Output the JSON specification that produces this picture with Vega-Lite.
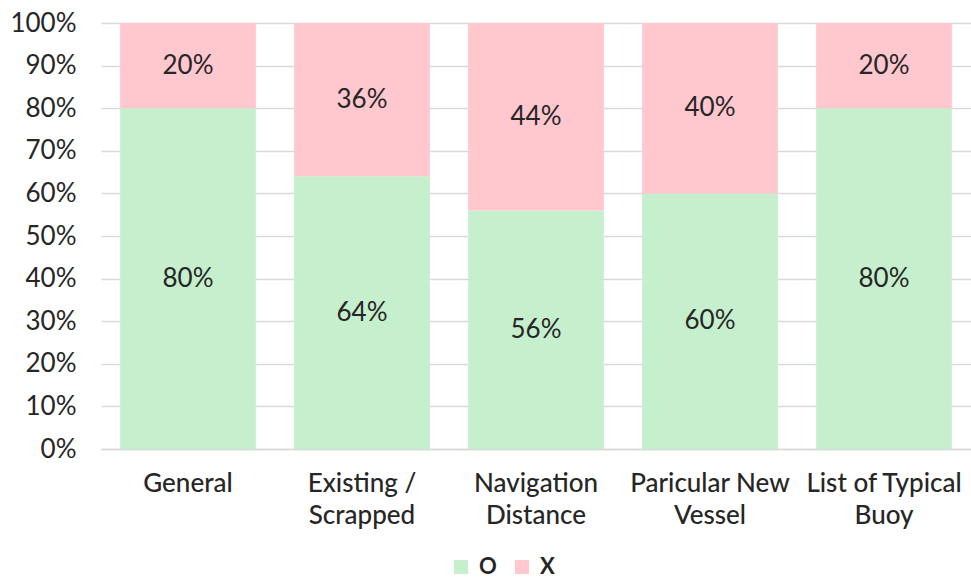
{
  "$schema": "https://vega.github.io/schema/vega-lite/v6.json",
  "width": 870,
  "height": 426,
  "autosize": {"type": "none"},
  "padding": {"left": 101, "top": 23, "right": 0, "bottom": 131},
  "background": "white",
  "config": {"font": "Lato", "view": {"stroke": null}},
  "data": {
    "values": [
      {"category": "General", "type": "O", "value": 0.8},
      {"category": "General", "type": "X", "value": 0.2},
      {"category": "Existing / Scrapped", "type": "O", "value": 0.64},
      {"category": "Existing / Scrapped", "type": "X", "value": 0.36},
      {"category": "Navigation Distance", "type": "O", "value": 0.56},
      {"category": "Navigation Distance", "type": "X", "value": 0.44},
      {"category": "Paricular New Vessel", "type": "O", "value": 0.6},
      {"category": "Paricular New Vessel", "type": "X", "value": 0.4},
      {"category": "List of Typical Buoy", "type": "O", "value": 0.8},
      {"category": "List of Typical Buoy", "type": "X", "value": 0.2}
    ]
  },
  "transform": [
    {"stack": "value", "groupby": ["category"], "sort": [{"field": "type"}], "as": ["v0", "v1"]},
    {"calculate": "(datum.v0 + datum.v1) / 2", "as": "mid"}
  ],
  "encoding": {
    "x": {
      "field": "category",
      "type": "nominal",
      "sort": ["General", "Existing / Scrapped", "Navigation Distance", "Paricular New Vessel", "List of Typical Buoy"],
      "scale": {"paddingInner": 0.22, "paddingOuter": 0.11},
      "axis": {
        "title": null,
        "labelAngle": 0,
        "labelFontSize": 26,
        "labelFontWeight": 500,
        "labelColor": "#262626",
        "labelPadding": 21,
        "labelLineHeight": 32,
        "labelExpr": "datum.label == 'General' ? 'General' : datum.label == 'Existing / Scrapped' ? ['Existing /', 'Scrapped'] : datum.label == 'Navigation Distance' ? ['Navigation', 'Distance'] : datum.label == 'Paricular New Vessel' ? ['Paricular New', 'Vessel'] : ['List of Typical', 'Buoy']",
        "ticks": false,
        "domainColor": "#d9d9d9",
        "domainWidth": 1.5,
        "grid": false,
        "labelLimit": 300
      }
    }
  },
  "layer": [
    {
      "mark": {"type": "bar"},
      "encoding": {
        "y": {
          "field": "v0",
          "type": "quantitative",
          "scale": {"domain": [0, 1]},
          "axis": {
            "title": null,
            "format": ".0%",
            "values": [0, 0.1, 0.2, 0.3, 0.4, 0.5, 0.6, 0.7, 0.8, 0.9, 1],
            "labelFontSize": 26,
            "labelColor": "#262626",
            "labelPadding": 25,
            "ticks": false,
            "domain": false,
            "gridColor": "#d9d9d9",
            "gridWidth": 1.5
          }
        },
        "y2": {"field": "v1"},
        "color": {
          "field": "type",
          "type": "nominal",
          "scale": {"domain": ["O", "X"], "range": ["#c6efce", "#ffc7ce"]},
          "legend": {
            "title": null,
            "orient": "none",
            "direction": "horizontal",
            "legendX": 349,
            "legendY": 533,
            "symbolType": "square",
            "symbolSize": 196,
            "symbolStrokeWidth": 0,
            "labelFontSize": 22,
            "labelFontWeight": "bold",
            "labelColor": "#262626",
            "columnPadding": 14,
            "labelOffset": 7
          }
        }
      }
    },
    {
      "mark": {"type": "text", "fontSize": 26, "color": "#262626"},
      "encoding": {
        "y": {
          "field": "mid",
          "type": "quantitative",
          "axis": {
            "title": null,
            "format": ".0%",
            "values": [0, 0.1, 0.2, 0.3, 0.4, 0.5, 0.6, 0.7, 0.8, 0.9, 1],
            "labelFontSize": 26,
            "labelColor": "#262626",
            "labelPadding": 25,
            "ticks": false,
            "domain": false,
            "gridColor": "#d9d9d9",
            "gridWidth": 1.5
          }
        },
        "text": {"field": "value", "type": "quantitative", "format": ".0%"}
      }
    }
  ]
}
